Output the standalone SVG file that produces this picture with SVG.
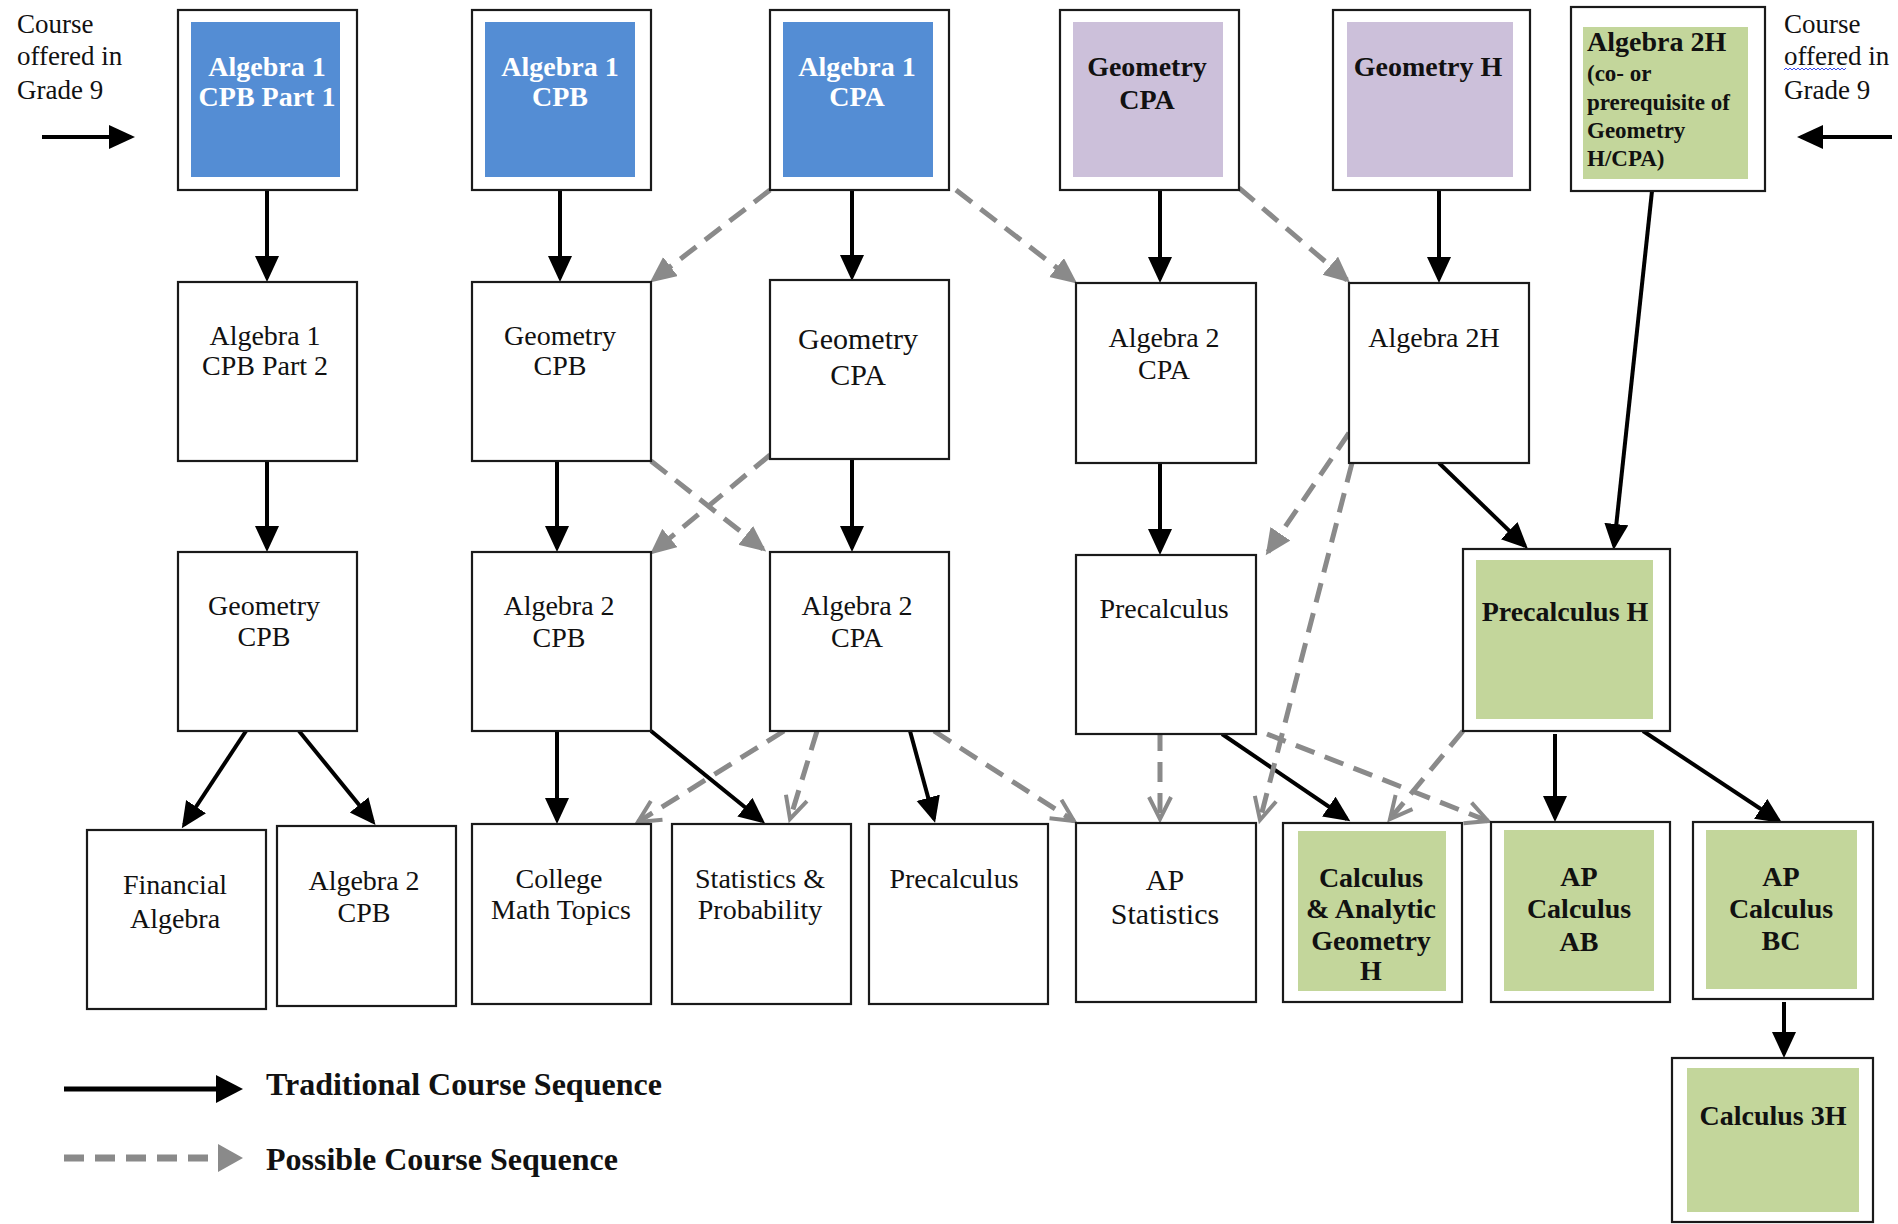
<svg xmlns="http://www.w3.org/2000/svg" width="1898" height="1224" viewBox="0 0 1898 1224">
<style>
.bg{fill:#ffffff}
.box{fill:#ffffff;stroke:#1a1a1a;stroke-width:2.2}
.blue{fill:#548dd4}
.purple{fill:#ccc0da}
.green{fill:#c3d69b}
text{font-family:"Liberation Serif","Times New Roman",serif;fill:#111;text-anchor:middle}
.r{font-size:28px}
.r30{font-size:30px}
.b{font-size:28px;font-weight:bold}
.bw{font-size:28px;font-weight:bold;fill:#ffffff}
.bs{font-size:23px;font-weight:bold;text-anchor:start}
.lbl{font-size:27px;text-anchor:start}
.leg{font-size:32px;font-weight:bold;text-anchor:start}
.solid{stroke:#000;stroke-width:4;fill:none;marker-end:url(#ah)}
.dash{stroke:#8a8a8a;stroke-width:5;fill:none;stroke-dasharray:20 11}
.df{marker-end:url(#gh)}
.dc{marker-end:url(#gc)}
</style>
<defs>
<marker id="ah" markerUnits="userSpaceOnUse" markerWidth="28" markerHeight="26" refX="22" refY="12" orient="auto"><path d="M0,0 L26,12 L0,24 Z" fill="#000"/></marker>
<marker id="gh" markerUnits="userSpaceOnUse" markerWidth="28" markerHeight="26" refX="22" refY="12" orient="auto"><path d="M0,0 L26,12 L0,24 Z" fill="#8a8a8a"/></marker>
<marker id="gc" markerUnits="userSpaceOnUse" markerWidth="30" markerHeight="30" refX="24" refY="13" orient="auto"><path d="M2,2 L24,13 L2,24" fill="none" stroke="#8a8a8a" stroke-width="4"/></marker>
</defs>
<rect class="bg" x="0" y="0" width="1898" height="1224"/>

<g id="label-left">
<text class="lbl" x="17" y="33">Course</text>
<text class="lbl" x="17" y="65">offered in</text>
<text class="lbl" x="17" y="99">Grade 9</text>
</g>
<g id="label-right">
<text class="lbl" x="1784" y="33">Course</text>
<text class="lbl" x="1784" y="65">offered in</text>
<text class="lbl" x="1784" y="99">Grade 9</text>
<path d="M1784,70 l2,-2 l2,2 l2,-2 l2,2 l2,-2 l2,2 l2,-2 l2,2 l2,-2 l2,2 l2,-2 l2,2 l2,-2 l2,2 l2,-2 l2,2 l2,-2 l2,2 l2,-2 l2,2 l2,-2 l2,2 l2,-2 l2,2 l2,-2 l2,2 l2,-2 l2,2 l2,-2 l2,2 l2,-2" fill="none" stroke="#3b4cf0" stroke-width="1"/>
</g>

<g id="connectors">
<!-- grade 9 indicators -->
<line class="solid" x1="42" y1="137" x2="131" y2="137"/>
<line class="solid" x1="1892" y1="137" x2="1801" y2="137"/>
<!-- traditional -->
<line class="solid" x1="267" y1="190" x2="267" y2="278"/>
<line class="solid" x1="267" y1="461" x2="267" y2="548"/>
<line class="solid" x1="246" y1="731" x2="184" y2="825"/>
<line class="solid" x1="299" y1="731" x2="373" y2="822"/>
<line class="solid" x1="560" y1="190" x2="560" y2="278"/>
<line class="solid" x1="557" y1="457" x2="557" y2="548"/>
<line class="solid" x1="557" y1="731" x2="557" y2="820"/>
<line class="solid" x1="651" y1="731" x2="762" y2="821"/>
<line class="solid" x1="852" y1="190" x2="852" y2="277"/>
<line class="solid" x1="852" y1="455" x2="852" y2="548"/>
<line class="solid" x1="910" y1="731" x2="934" y2="819"/>
<line class="solid" x1="1160" y1="190" x2="1160" y2="279"/>
<line class="solid" x1="1160" y1="463" x2="1160" y2="551"/>
<line class="solid" x1="1222" y1="734" x2="1347" y2="819"/>
<line class="solid" x1="1439" y1="190" x2="1439" y2="279"/>
<line class="solid" x1="1439" y1="463" x2="1525" y2="546"/>
<line class="solid" x1="1652" y1="191" x2="1614" y2="546"/>
<line class="solid" x1="1555" y1="734" x2="1555" y2="818"/>
<line class="solid" x1="1643" y1="731" x2="1779" y2="821"/>
<line class="solid" x1="1784" y1="1002" x2="1784" y2="1054"/>
<!-- possible -->
<line class="dash df" x1="770" y1="190" x2="653" y2="280"/>
<line class="dash df" x1="956" y1="190" x2="1074" y2="281"/>
<line class="dash df" x1="1239" y1="188" x2="1347" y2="280"/>
<line class="dash df" x1="651" y1="461" x2="763" y2="549"/>
<line class="dash df" x1="770" y1="455" x2="653" y2="552"/>
<line class="dash df" x1="1349" y1="433" x2="1268" y2="552"/>
<line class="dash dc" x1="784" y1="731" x2="638" y2="822"/>
<line class="dash dc" x1="817" y1="731" x2="790" y2="819"/>
<line class="dash dc" x1="934" y1="731" x2="1074" y2="821"/>
<line class="dash dc" x1="1352" y1="463" x2="1260" y2="820"/>
<line class="dash dc" x1="1160" y1="731" x2="1160" y2="819"/>
<line class="dash dc" x1="1267" y1="734" x2="1488" y2="821"/>
<line class="dash dc" x1="1463" y1="731" x2="1390" y2="819"/>
</g>

<!-- Row 1 -->
<g id="n-alg1-cpb-p1">
<rect class="box" x="178" y="10" width="179" height="180"/>
<rect class="blue" x="191" y="22" width="149" height="155"/>
<text class="bw" x="267" y="76">Algebra 1</text>
<text class="bw" x="267" y="106">CPB Part 1</text>
</g>
<g id="n-alg1-cpb">
<rect class="box" x="472" y="10" width="179" height="180"/>
<rect class="blue" x="485" y="22" width="150" height="155"/>
<text class="bw" x="560" y="76">Algebra 1</text>
<text class="bw" x="560" y="106">CPB</text>
</g>
<g id="n-alg1-cpa">
<rect class="box" x="770" y="10" width="179" height="180"/>
<rect class="blue" x="783" y="22" width="150" height="155"/>
<text class="bw" x="857" y="76">Algebra 1</text>
<text class="bw" x="857" y="106">CPA</text>
</g>
<g id="n-geo-cpa-top">
<rect class="box" x="1060" y="10" width="179" height="180"/>
<rect class="purple" x="1073" y="22" width="150" height="155"/>
<text class="b" x="1147" y="76">Geometry</text>
<text class="b" x="1147" y="109">CPA</text>
</g>
<g id="n-geo-h">
<rect class="box" x="1333" y="10" width="197" height="180"/>
<rect class="purple" x="1347" y="22" width="166" height="155"/>
<text class="b" x="1428" y="76">Geometry H</text>
</g>
<g id="n-alg2h-top">
<rect class="box" x="1571" y="7" width="194" height="184"/>
<rect class="green" x="1583" y="27" width="165" height="152"/>
<text class="b" x="1587" y="51" style="text-anchor:start">Algebra 2H</text>
<text class="bs" x="1587" y="81">(co- or</text>
<text class="bs" x="1587" y="110">prerequisite of</text>
<text class="bs" x="1587" y="138">Geometry</text>
<text class="bs" x="1587" y="166">H/CPA)</text>
</g>

<!-- Row 2 -->
<g id="n-alg1-cpb-p2">
<rect class="box" x="178" y="282" width="179" height="179"/>
<text class="r" x="265" y="345">Algebra 1</text>
<text class="r" x="265" y="375">CPB Part 2</text>
</g>
<g id="n-geo-cpb-2">
<rect class="box" x="472" y="282" width="179" height="179"/>
<text class="r" x="560" y="345">Geometry</text>
<text class="r" x="560" y="375">CPB</text>
</g>
<g id="n-geo-cpa-2">
<rect class="box" x="770" y="280" width="179" height="179"/>
<text class="r30" x="858" y="349">Geometry</text>
<text class="r30" x="858" y="385">CPA</text>
</g>
<g id="n-alg2-cpa-2">
<rect class="box" x="1076" y="283" width="180" height="180"/>
<text class="r" x="1164" y="347">Algebra 2</text>
<text class="r" x="1164" y="379">CPA</text>
</g>
<g id="n-alg2h-2">
<rect class="box" x="1349" y="283" width="180" height="180"/>
<text class="r" x="1434" y="347">Algebra 2H</text>
</g>

<!-- Row 3 -->
<g id="n-geo-cpb-3">
<rect class="box" x="178" y="552" width="179" height="179"/>
<text class="r" x="264" y="615">Geometry</text>
<text class="r" x="264" y="646">CPB</text>
</g>
<g id="n-alg2-cpb-3">
<rect class="box" x="472" y="552" width="179" height="179"/>
<text class="r" x="559" y="615">Algebra 2</text>
<text class="r" x="559" y="647">CPB</text>
</g>
<g id="n-alg2-cpa-3">
<rect class="box" x="770" y="552" width="179" height="179"/>
<text class="r" x="857" y="615">Algebra 2</text>
<text class="r" x="857" y="647">CPA</text>
</g>
<g id="n-precalc-3">
<rect class="box" x="1076" y="555" width="180" height="179"/>
<text class="r" x="1164" y="618">Precalculus</text>
</g>
<g id="n-precalc-h">
<rect class="box" x="1463" y="549" width="207" height="182"/>
<rect class="green" x="1476" y="560" width="177" height="159"/>
<text class="b" x="1565" y="621">Precalculus H</text>
</g>

<!-- Row 4 -->
<g id="n-fin-alg">
<rect class="box" x="87" y="830" width="179" height="179"/>
<text class="r" x="175" y="894">Financial</text>
<text class="r" x="175" y="928">Algebra</text>
</g>
<g id="n-alg2-cpb-4">
<rect class="box" x="277" y="826" width="179" height="180"/>
<text class="r" x="364" y="890">Algebra 2</text>
<text class="r" x="364" y="922">CPB</text>
</g>
<g id="n-college-math">
<rect class="box" x="472" y="824" width="179" height="180"/>
<text class="r" x="559" y="888">College</text>
<text class="r" x="561" y="919">Math Topics</text>
</g>
<g id="n-stats-prob">
<rect class="box" x="672" y="824" width="179" height="180"/>
<text class="r" x="760" y="888">Statistics &amp;</text>
<text class="r" x="760" y="919">Probability</text>
</g>
<g id="n-precalc-4">
<rect class="box" x="869" y="824" width="179" height="180"/>
<text class="r" x="954" y="888">Precalculus</text>
</g>
<g id="n-ap-stats">
<rect class="box" x="1076" y="823" width="180" height="179"/>
<text class="r30" x="1165" y="890">AP</text>
<text class="r30" x="1165" y="924">Statistics</text>
</g>
<g id="n-calc-ag-h">
<rect class="box" x="1283" y="823" width="179" height="179"/>
<rect class="green" x="1298" y="831" width="148" height="160"/>
<text class="b" x="1371" y="887">Calculus</text>
<text class="b" x="1371" y="918">&amp; Analytic</text>
<text class="b" x="1371" y="950">Geometry</text>
<text class="b" x="1371" y="980">H</text>
</g>
<g id="n-ap-calc-ab">
<rect class="box" x="1491" y="822" width="179" height="180"/>
<rect class="green" x="1504" y="830" width="150" height="161"/>
<text class="b" x="1579" y="886">AP</text>
<text class="b" x="1579" y="918">Calculus</text>
<text class="b" x="1579" y="951">AB</text>
</g>
<g id="n-ap-calc-bc">
<rect class="box" x="1693" y="822" width="180" height="177"/>
<rect class="green" x="1706" y="830" width="151" height="159"/>
<text class="b" x="1781" y="886">AP</text>
<text class="b" x="1781" y="918">Calculus</text>
<text class="b" x="1781" y="950">BC</text>
</g>
<g id="n-calc-3h">
<rect class="box" x="1672" y="1058" width="201" height="164"/>
<rect class="green" x="1687" y="1068" width="172" height="144"/>
<text class="b" x="1773" y="1125">Calculus 3H</text>
</g>

<!-- Legend -->
<g id="legend">
<line stroke="#000" stroke-width="5" x1="64" y1="1089" x2="218" y2="1089"/>
<path d="M216,1075 L243,1089 L216,1103 Z" fill="#000"/>
<line stroke="#8a8a8a" stroke-width="7" stroke-dasharray="20 11" x1="64" y1="1158" x2="218" y2="1158"/>
<path d="M218,1144 L243,1158 L218,1172 Z" fill="#8a8a8a"/>
<text class="leg" x="266" y="1095">Traditional Course Sequence</text>
<text class="leg" x="266" y="1170">Possible Course Sequence</text>
</g>
</svg>
